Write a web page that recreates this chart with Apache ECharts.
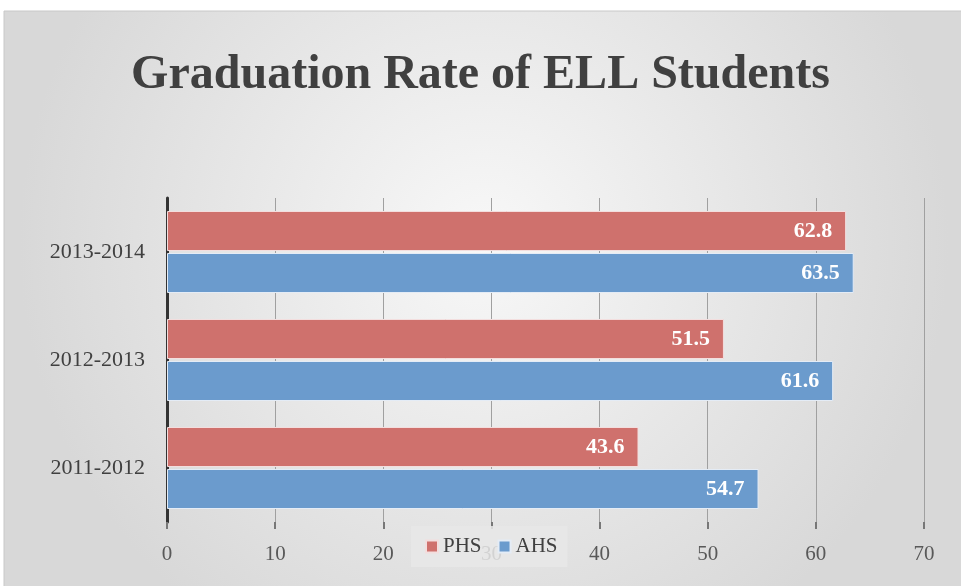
<!DOCTYPE html>
<html>
<head>
<meta charset="utf-8">
<script src="https://cdn.jsdelivr.net/npm/echarts@6/dist/echarts.min.js"></script>
<style>
  html, body { margin: 0; padding: 0; background: #fff; }
  #chart { width: 961px; height: 586px; }
</style>
</head>
<body>
<div id="chart"></div>
<script>
// chart data
const years = ['2011-2012', '2012-2013', '2013-2014']
const phs = [43.6, 51.5, 62.8]
const ahs = [54.7, 61.6, 63.5]
const xTicks = [0, 10, 20, 30, 40, 50, 60, 70]

const serif = '"Liberation Serif", "DejaVu Serif", serif'
const chart = echarts.init(document.getElementById('chart'))

const labelStyle = {
  show: true,
  position: 'insideRight',
  distance: 14,
  color: '#fff',
  fontFamily: serif,
  fontWeight: 'bold',
  fontSize: 22,
}

chart.setOption({
  animation: false,
  graphic: [
    {
      type: 'rect',
      z: -10,
      shape: { x: 4, y: 11, width: 960, height: 580 },
      style: {
        fill: new echarts.graphic.RadialGradient(0.5, 0.4, 0.8, [
          { offset: 0, color: '#f8f8f8' },
          { offset: 1, color: '#d8d8d8' },
        ]),
        stroke: '#c8c8c8',
        lineWidth: 1,
      },
    },
  ],
  title: {
    text: 'Graduation Rate of ELL Students',
    left: 'center',
    top: 47,
    textStyle: {
      fontFamily: serif,
      fontWeight: 'bold',
      fontSize: 48,
      color: '#404040',
    },
  },
  legend: {
    data: ['PHS', 'AHS'],
    left: 411,
    top: 526,
    padding: [10, 10, 10, 14],
    backgroundColor: 'rgba(232,232,232,0.85)',
    icon: 'rect',
    itemWidth: 12,
    itemHeight: 12,
    itemGap: 16,
    textStyle: { fontFamily: serif, fontSize: 21, color: '#404040' },
  },
  grid: { left: 167, right: 37, top: 198, bottom: 64, containLabel: false },
  xAxis: {
    type: 'value',
    min: 0,
    max: 70,
    interval: 10,
    axisLine: { show: false },
    axisTick: { show: true, length: 7, lineStyle: { color: '#777', width: 2 } },
    splitLine: { show: true, lineStyle: { color: '#a0a0a0', width: 1 } },
    axisLabel: {
      margin: 22,
      fontFamily: serif,
      fontSize: 21,
      color: '#595959',
      formatter: v => (xTicks.includes(v) ? String(v) : ''),
    },
  },
  yAxis: {
    type: 'category',
    data: years,
    axisLine: { show: true, lineStyle: { color: '#333', width: 3 } },
    axisTick: { show: false },
    axisLabel: {
      margin: 22,
      fontFamily: serif,
      fontSize: 22,
      color: '#404040',
    },
  },
  series: [
    {
      name: 'PHS',
      type: 'bar',
      data: phs,
      barWidth: 40,
      barGap: '5%',
      itemStyle: { color: '#cf716d', borderColor: '#f3dede', borderWidth: 1 },
      label: labelStyle,
    },
    {
      name: 'AHS',
      type: 'bar',
      data: ahs,
      barWidth: 40,
      barGap: '5%',
      itemStyle: { color: '#6b9bcd', borderColor: '#e4ecf6', borderWidth: 1 },
      label: labelStyle,
    },
  ],
})

window.addEventListener('resize', () => chart.resize())
</script>
</body>
</html>
